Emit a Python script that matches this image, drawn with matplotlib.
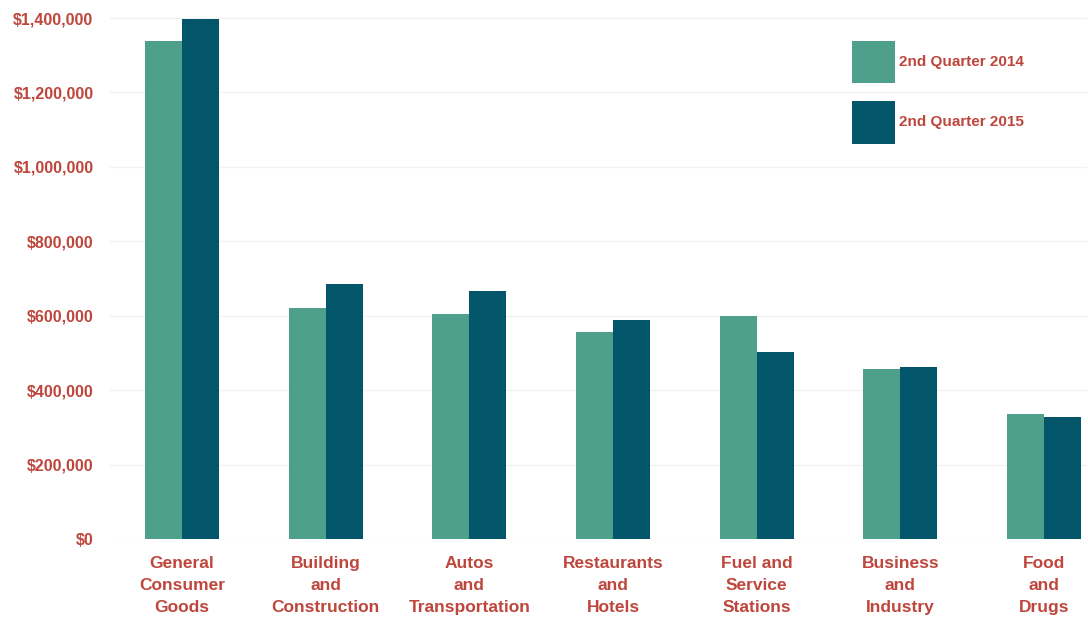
import numpy as np
import matplotlib.pyplot as plt
from matplotlib.ticker import FuncFormatter

categories = ["General\nConsumer\nGoods", "Building\nand\nConstruction", "Autos\nand\nTransportation",
              "Restaurants\nand\nHotels", "Fuel and\nService\nStations", "Business\nand\nIndustry",
              "Food\nand\nDrugs"]
q2_2014 = [1338000, 621000, 605000, 556000, 600000, 457000, 336000]
q2_2015 = [1398000, 685000, 667000, 589000, 503000, 462000, 328000]
series_names = ["2nd Quarter 2014", "2nd Quarter 2015"]

plt.rcParams['font.family'] = ['Liberation Sans', 'DejaVu Sans']
red = "#BE463C"
light = "#4E9F8B"
dark = "#03566A"

fig = plt.figure(figsize=(10.88, 6.19), dpi=100)
ax = fig.add_axes([110.2 / 1088, 80 / 619, 977 / 1088, 528.4 / 619])

x = np.arange(len(categories))
w = 0.258
ax.bar(x - w / 2, q2_2014, w, color=light, label=series_names[0])
ax.bar(x + w / 2, q2_2015, w, color=dark, label=series_names[1])

ax.set_xlim(-0.5, 6.3)
ax.set_ylim(0, 1420000)
ax.set_yticks(np.arange(0, 1400001, 200000))
ax.yaxis.set_major_formatter(FuncFormatter(lambda v, p: "${:,.0f}".format(v)))
ax.set_xticks(x)
ax.set_xticklabels(categories, linespacing=1.6)

for s in ax.spines.values():
    s.set_visible(False)
ax.tick_params(length=0)
ax.tick_params(axis='y', pad=12, labelsize=11.5, labelcolor=red)
ax.tick_params(axis='x', pad=12, labelsize=12.5, labelcolor=red)
for t in ax.get_yticklabels() + ax.get_xticklabels():
    t.set_fontweight('bold')
ax.yaxis.grid(True, color="#F2F2F2", linewidth=1)
ax.set_axisbelow(True)

leg = ax.legend(loc='upper left', bbox_to_anchor=(852 / 1088, 1 - 41 / 619),
                bbox_transform=fig.transFigure, frameon=False, fontsize=11,
                handlelength=2.8, handleheight=3.9, labelspacing=1.15,
                handletextpad=0.3, borderpad=0, borderaxespad=0)
for t in leg.get_texts():
    t.set_color(red)
    t.set_fontweight('bold')

fig.savefig("out.png", dpi=100)
